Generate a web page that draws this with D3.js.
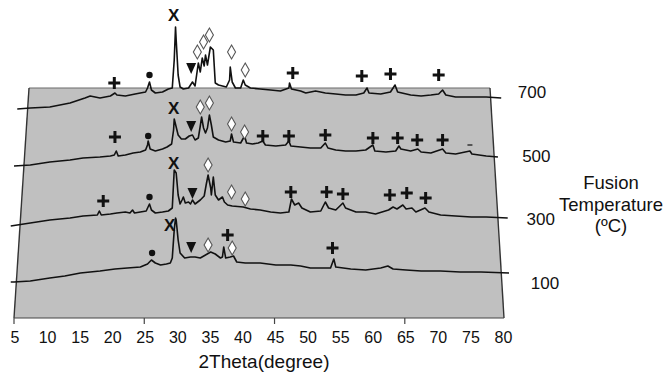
<!DOCTYPE html>
<html>
<head>
<meta charset="utf-8">
<script src="https://cdn.jsdelivr.net/npm/d3@7"></script>
<style>
  body { margin: 0; background: #fff; }
  text { font-family: "Liberation Sans", Arial, sans-serif; fill: #111; }
</style>
</head>
<body>
<script>
// fusion temperatures (series), front to back
const temps = [100, 300, 500, 700];

// x axis tick labels / major tick marks (2Theta, degree)
const tickLabels = [5, 10, 15, 20, 25, 30, 35, 40, 45, 50, 55, 60, 65, 70, 75, 80];
const majorTicks = [5, 25, 45, 65];

// traces: [2theta, intensity (a.u.)]
const trace100 = [[4.5,20],[5,20],[7.5,30],[10.5,60],[12.8,80],[15.2,110],[18.2,130],[20.5,150],[22.4,160],[24.4,170],[25.5,200],[26.1,240],[26.7,210],[27.5,190],[28.4,200],[29,210],[29.3,260],[29.6,540],[29.8,660],[29.9,640],[30.2,440],[30.5,310],[31.2,260],[32.1,270],[32.8,270],[33.6,260],[34.4,290],[35.2,320],[35.9,300],[36.7,260],[37,270],[37.2,370],[37.5,260],[38.2,270],[38.7,280],[39.2,220],[40.5,210],[42.8,210],[45.2,190],[47.5,190],[49,180],[50.5,160],[53.6,160],[54.1,250],[54.4,170],[56.7,150],[59,140],[61.3,160],[62.4,180],[63.2,150],[65.2,140],[67.5,130],[70.5,130],[73.5,120],[76.7,120],[81,110]];

const trace300 = [[4.5,0],[7.5,30],[10.5,60],[13.6,80],[15.6,100],[17.8,110],[18.1,150],[18.4,110],[19.8,120],[20.8,130],[22.1,140],[22.8,130],[23.2,160],[23.5,130],[24.4,140],[25.3,150],[25.8,220],[26.1,160],[26.7,130],[27.8,140],[28.7,150],[29.3,180],[29.6,560],[29.9,530],[30.2,310],[30.5,220],[30.8,260],[31,290],[31.3,230],[31.8,240],[32.1,220],[32.4,260],[32.8,220],[33.6,260],[34.2,300],[34.5,410],[34.8,510],[35.2,380],[35.3,310],[35.6,490],[35.9,310],[36.4,260],[37,290],[37.3,240],[37.8,210],[38.5,200],[40.2,190],[41.3,170],[42.8,160],[44.4,140],[45.9,130],[47.2,140],[47.6,270],[48.1,210],[48.7,230],[49.2,180],[50.5,140],[52.1,150],[52.8,240],[53.3,180],[54.4,160],[55.5,230],[55.9,180],[57.5,140],[59,140],[60.5,120],[62.5,160],[63.2,190],[63.8,170],[64.7,210],[65.2,170],[66.1,180],[66.7,140],[68.1,180],[68.7,140],[70.5,110],[72.8,100],[75.2,90],[77.5,90],[80.8,80]];

const trace500 = [[5,20],[7.5,30],[10.5,60],[13.6,80],[15.6,100],[18.2,110],[19.8,120],[20.4,130],[20.7,170],[21,120],[22.1,130],[23.3,150],[24.4,160],[25.2,180],[25.5,230],[25.6,270],[25.9,190],[26.7,170],[27.8,190],[28.5,210],[29.2,240],[29.5,380],[29.6,490],[29.9,410],[30.2,330],[30.7,290],[31.3,290],[31.9,320],[32.4,330],[32.8,280],[33.3,300],[33.6,420],[33.8,510],[34.1,400],[34.4,350],[34.7,400],[35,530],[35.3,430],[35.6,310],[36.4,280],[37.5,260],[38.2,270],[38.4,340],[38.7,260],[39.8,250],[40.4,320],[40.7,250],[41.6,240],[42.5,250],[43.2,270],[43.6,230],[45.2,220],[46.7,230],[47.2,270],[47.5,220],[49,210],[50.5,200],[52.1,200],[52.8,250],[53.2,200],[54.4,180],[55.9,170],[57.5,170],[59,180],[60.1,230],[60.4,170],[62.1,160],[63.6,170],[64.1,220],[64.4,190],[65.9,170],[67,190],[67.5,160],[69,150],[70.8,190],[71.3,150],[72.8,140],[75,170],[75.3,140],[77.5,120],[79.3,110]];

const trace700 = [[5.5,10],[7.5,20],[10.5,30],[13.6,70],[15.9,120],[16.7,140],[18.2,120],[19.8,140],[20.5,170],[20.8,150],[22.1,140],[23.6,160],[25.2,180],[25.5,220],[25.8,280],[26.1,200],[26.7,170],[27.8,180],[28.7,210],[29.3,220],[29.6,500],[29.8,830],[29.9,700],[30.2,350],[30.5,230],[31,210],[31.8,220],[32.4,280],[32.8,240],[33.3,470],[33.6,380],[33.9,520],[34.2,440],[34.4,550],[34.7,450],[35.15,630],[35.6,600],[35.9,270],[36.4,250],[37,240],[37.6,230],[38.1,300],[38.2,430],[38.5,280],[39,220],[39.8,220],[40.2,300],[40.5,250],[41.3,220],[42.8,210],[44.4,200],[45.9,190],[47.2,220],[47.3,270],[47.6,210],[49,190],[49.8,170],[51.3,190],[52.8,170],[54.4,160],[55.9,150],[57.5,150],[58.7,170],[59.2,220],[59.5,170],[61.3,160],[62.8,180],[63.5,250],[63.9,180],[65.9,150],[67.5,140],[69,150],[70.2,160],[70.8,200],[71.3,150],[72.8,130],[75.2,130],[77.5,130],[79.8,120]];

// phase markers: [2theta, intensity, symbol]
const markers100 = [[26.2,310,"dot"],[28.9,590,"x"],[32.2,370,"tri"],[34.8,390,"dia"],[37.8,490,"plus"],[38.5,360,"dia"],[53.9,360,"plus"]];
const markers300 = [[18.7,250,"plus"],[25.8,290,"dot"],[29.5,630,"x"],[32.4,330,"tri"],[34.8,610,"dia"],[38.4,340,"dia"],[40.5,270,"dia"],[47.5,340,"plus"],[53,340,"plus"],[55.5,320,"plus"],[62.7,310,"plus"],[65.3,330,"plus"],[68.2,280,"plus"]];
const markers500 = [[20.5,310,"plus"],[25.6,320,"dot"],[29.5,600,"x"],[32.2,420,"tri"],[33.6,610,"dia"],[35,650,"dia"],[38.4,440,"dia"],[40.4,360,"dia"],[43.2,320,"plus"],[47.2,320,"plus"],[52.8,330,"plus"],[60.1,300,"plus"],[63.9,300,"plus"],[66.9,280,"plus"],[70.8,280,"plus"],[75,230,"dash"]];
const markers700 = [[20.4,270,"plus"],[25.8,350,"dot"],[29.5,950,"x"],[32.2,420,"tri"],[33.15,580,"dia"],[34.1,680,"dia"],[35,750,"dia"],[38.4,580,"dia"],[40.5,400,"dia"],[47.8,370,"plus"],[58.4,340,"plus"],[62.8,360,"plus"],[70.2,350,"plus"]];

const traces = { 100: trace100, 300: trace300, 500: trace500, 700: trace700 };
const markers = { 100: markers100, 300: markers300, 500: markers500, 700: markers700 };

const W = 670, H = 374;
const floorY = 318, topY = 88;

const svg = d3.select("body").append("svg").attr("width", W).attr("height", H);

const x = d3.scaleLinear().domain([5, 80]).range([14, 502.5]);
const yBase = d3.scaleLinear().domain([100, 700]).range([284, 110]);
const yInt = d3.scaleLinear().domain([0, 1000]).range([0, 100]);
const labelY = d3.scaleLinear().domain([100, 700]).range([283, 92]);
const labelX = d3.scaleLinear().domain([100, 700]).range([545, 532]);

// grey back wall (perspective trapezoid)
svg.append("polygon")
  .attr("points", [[x(5), floorY], [29, topY], [490, topY], [504, floorY]].map(p => p.join(",")).join(" "))
  .attr("fill", "#c0c0c0");
svg.append("line").attr("x1", 29).attr("y1", topY).attr("x2", 490).attr("y2", topY)
  .attr("stroke", "#6a6a6a").attr("stroke-width", 1.2);
svg.append("line").attr("x1", 29).attr("y1", topY).attr("x2", x(5)).attr("y2", floorY)
  .attr("stroke", "#333").attr("stroke-width", 1.4);
svg.append("line").attr("x1", 490).attr("y1", topY).attr("x2", 504).attr("y2", floorY)
  .attr("stroke", "#333").attr("stroke-width", 1.4);

// x axis
const axis = svg.append("g").attr("transform", "translate(0," + floorY + ")");
axis.append("line").attr("x1", x(5)).attr("x2", 504).attr("stroke", "#444").attr("stroke-width", 1.2);
axis.selectAll(".tk").data(majorTicks).enter().append("line")
  .attr("x1", d => x(d)).attr("x2", d => x(d)).attr("y1", 0).attr("y2", 6)
  .attr("stroke", "#444").attr("stroke-width", 1.2);
axis.selectAll(".tl").data(tickLabels).enter().append("text")
  .attr("x", d => x(d) + 1).attr("y", 25)
  .attr("text-anchor", "middle").style("font-size", "16px")
  .text(d => d);

svg.append("text").attr("x", 264).attr("y", 368).attr("text-anchor", "middle")
  .style("font-size", "19px").text("2Theta(degree)");

// traces, back to front
const line = t => d3.line().x(d => x(d[0])).y(d => yBase(t) - yInt(d[1]));
temps.slice().reverse().forEach(t => {
  svg.append("path").datum(traces[t])
    .attr("d", line(t))
    .attr("fill", "none").attr("stroke", "#111").attr("stroke-width", 1.6)
    .attr("stroke-linejoin", "round");

  const g = svg.append("g");
  markers[t].forEach(m => {
    const cx = x(m[0]), cy = yBase(t) - yInt(m[1]);
    if (m[2] === "plus") {
      g.append("path").attr("d", `M${cx - 6},${cy}H${cx + 6}M${cx},${cy - 6}V${cy + 6}`)
        .attr("stroke", "#111").attr("stroke-width", 3).attr("fill", "none");
    } else if (m[2] === "dot") {
      g.append("circle").attr("cx", cx).attr("cy", cy).attr("r", 3.2).attr("fill", "#111");
    } else if (m[2] === "tri") {
      g.append("path").attr("d", `M${cx - 5},${cy - 5}H${cx + 5}L${cx},${cy + 6}Z`).attr("fill", "#111");
    } else if (m[2] === "dia") {
      g.append("path").attr("d", `M${cx},${cy - 7}L${cx + 4},${cy}L${cx},${cy + 7}L${cx - 4},${cy}Z`)
        .attr("fill", "#fff").attr("stroke", "#555").attr("stroke-width", 1.1);
    } else if (m[2] === "x") {
      g.append("text").attr("x", cx).attr("y", cy + 6).attr("text-anchor", "middle")
        .style("font-size", "17px").style("font-weight", "bold").text("X");
    } else if (m[2] === "dash") {
      g.append("path").attr("d", `M${cx - 2.5},${cy}H${cx + 2.5}`).attr("stroke", "#333").attr("stroke-width", 1.5);
    }
  });

  svg.append("text").attr("x", labelX(t)).attr("y", labelY(t) + 6)
    .attr("text-anchor", "middle").style("font-size", "17px").text(t);
});

// right-hand title
const ttl = svg.append("text").attr("x", 611).attr("text-anchor", "middle").style("font-size", "18.5px");
["Fusion", "Temperature", "(ºC)"].forEach((s, i) => {
  ttl.append("tspan").attr("x", 611).attr("y", 189 + i * 21.5).text(s);
});
</script>
</body>
</html>
